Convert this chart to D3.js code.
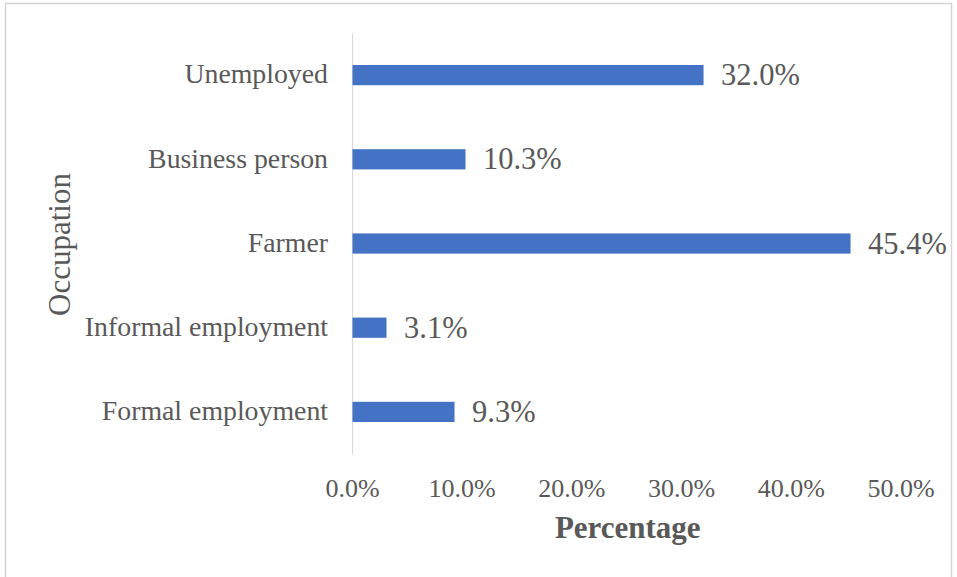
<!DOCTYPE html>
<html>
<head>
<meta charset="utf-8">
<script src="https://cdn.jsdelivr.net/npm/d3@7"></script>
<style>
  html, body { margin: 0; padding: 0; background: #fff; }
  svg { display: block; }
  text { font-family: "Liberation Serif", "Times New Roman", serif; fill: #595959; }
</style>
</head>
<body>
<svg id="chart" width="957" height="577"></svg>
<script>
// Occupation breakdown, top to bottom
const categories = ["Unemployed", "Business person", "Farmer", "Informal employment", "Formal employment"];
const values = [32.0, 10.3, 45.4, 3.1, 9.3];
const xTicks = [0, 10, 20, 30, 40, 50];
const xTitle = "Percentage";
const yTitle = "Occupation";

const svg = d3.select("#chart");
const plot = { left: 352, right: 900.5, top: 33, bottom: 454 };

// chart frame
svg.append("rect")
  .attr("x", 5.5).attr("y", 3.5)
  .attr("width", 946).attr("height", 600)
  .attr("fill", "#fff")
  .attr("stroke", "#d4d4d4").attr("stroke-width", 1.5);

const x = d3.scaleLinear().domain([0, 50]).range([plot.left, plot.right]);
const y = d3.scaleBand().domain(categories)
  .range([plot.top, plot.bottom])
  .paddingInner(0.76).paddingOuter(0.38);

// category axis
const yAxis = svg.append("g")
  .attr("transform", `translate(${plot.left},0)`)
  .call(d3.axisLeft(y).tickSize(0).tickPadding(24));
yAxis.select(".domain").attr("stroke", "#d9d9d9").attr("stroke-width", 1.2);
yAxis.selectAll("text")
  .style("font-size", "27.8px")
  .style("font-family", "'Liberation Serif', serif")
  .attr("fill", "#595959")
  .attr("dy", "0.3em");

// value axis labels
const xAxis = svg.append("g")
  .attr("transform", `translate(0,${plot.bottom})`)
  .call(d3.axisBottom(x).tickValues(xTicks).tickSize(0).tickPadding(0)
    .tickFormat(d => d3.format(".1f")(d) + "%"));
xAxis.select(".domain").remove();
xAxis.selectAll("text")
  .style("font-size", "26px")
  .style("font-family", "'Liberation Serif', serif")
  .attr("fill", "#595959")
  .attr("y", 43).attr("dy", 0);

// bars
const rows = categories.map((c, i) => ({ c, v: values[i] }));
svg.append("g").selectAll("rect")
  .data(rows).join("rect")
  .attr("x", x(0) + 0.5)
  .attr("y", d => y(d.c))
  .attr("width", d => x(d.v) - x(0))
  .attr("height", y.bandwidth())
  .attr("fill", "#4472C4");

// data labels
svg.append("g").selectAll("text")
  .data(rows).join("text")
  .attr("x", d => x(d.v) + 18)
  .attr("y", d => y(d.c) + y.bandwidth() / 2)
  .attr("dy", "0.33em")
  .style("font-size", "30.5px")
  .text(d => d3.format(".1f")(d.v) + "%");

// axis titles
svg.append("text")
  .attr("x", (plot.left + plot.right) / 2 + 1.5)
  .attr("y", 538)
  .attr("text-anchor", "middle")
  .style("font-size", "31px")
  .style("font-weight", "bold")
  .text(xTitle);

svg.append("text")
  .attr("transform", `translate(70,${(plot.top + plot.bottom) / 2 + 1}) rotate(-90)`)
  .attr("text-anchor", "middle")
  .style("font-size", "31px")
  .text(yTitle);
</script>
</body>
</html>
